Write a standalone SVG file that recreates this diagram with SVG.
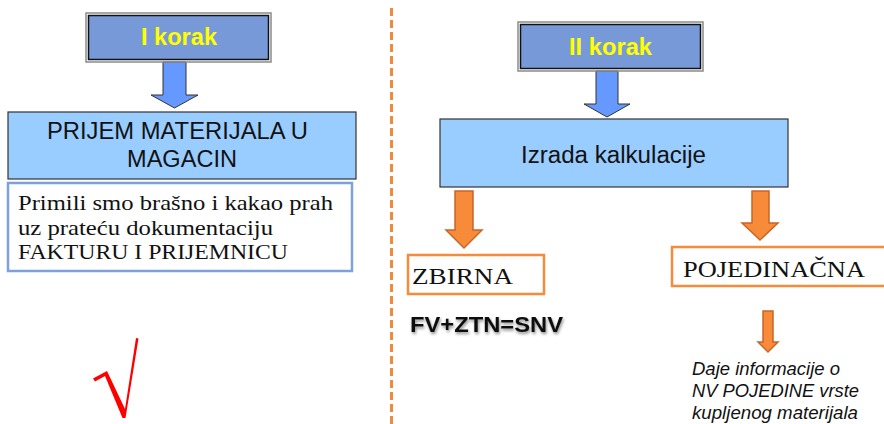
<svg xmlns="http://www.w3.org/2000/svg" width="884" height="424" viewBox="0 0 884 424">
  <style>
    .step { fill: #7799D8; stroke: #111; stroke-width: 1.5; }
    .stepOuter { fill: none; stroke: #8a8a8a; stroke-width: 1.5; }
    .stepText { font-family: "Liberation Sans", Arial, sans-serif; font-weight: bold; font-size: 23px; fill: #FFFF00; text-anchor: middle; }
    .main { fill: #99CCFF; stroke: #333; stroke-width: 1.2; }
    .mainText { font-family: "Liberation Sans", Arial, sans-serif; font-size: 23px; fill: #111; }
    .note { fill: #fff; stroke: #7EA0DC; stroke-width: 2.5; }
    .serif { font-family: "Liberation Serif", "Times New Roman", serif; fill: #111; }
    .orangeBox { fill: #fff; stroke: #F88B3A; stroke-width: 2.5; }
    .blueArrow { fill: #6699FF; stroke: #333; stroke-width: 1; }
    .orangeArrow { fill: #F88B3A; stroke: #C8662A; stroke-width: 1.5; }
    .divider { stroke: #F08A3C; stroke-width: 3; stroke-dasharray: 8 4; fill: none; }
    .italic { font-family: "Liberation Sans", Arial, sans-serif; font-style: italic; font-size: 18px; fill: #111; }
  </style>
  <defs>
    <filter id="softShadow" x="-10%" y="-30%" width="120%" height="160%">
      <feGaussianBlur in="SourceAlpha" stdDeviation="1.5"/>
      <feOffset dx="1" dy="1.5" result="b"/>
      <feFlood flood-color="#000" flood-opacity="0.45"/>
      <feComposite in2="b" operator="in"/>
      <feMerge><feMergeNode/><feMergeNode in="SourceGraphic"/></feMerge>
    </filter>
  </defs>

  <rect width="884" height="424" fill="#fff"/>

  <!-- dashed separator between the two steps -->
  <line class="divider" x1="391.5" y1="8" x2="391.5" y2="424"/>

  <g id="connectors">
    <!-- blue down arrows under the step headers -->
    <polygon class="blueArrow" points="163,62 186,62 186,95 198,95 174.5,108 151,95 163,95"/>
    <polygon class="blueArrow" points="596,71 618,71 618,104 630,104 607,117 584,104 596,104"/>
    <!-- orange arrows to the calculation types -->
    <polygon class="orangeArrow" points="455,191 473,191 473,230 482,230 464,248 446,230 455,230"/>
    <polygon class="orangeArrow" points="752,191 769,191 769,223 778,223 760,240 742,223 752,223"/>
    <polygon class="orangeArrow" points="763,311 773,311 773,342 778,342 768,352 758,342 763,342"/>
  </g>

  <g id="step1">
    <rect class="stepOuter" x="86" y="13" width="185" height="49"/>
    <rect class="step" x="88.5" y="15.5" width="180" height="44"/>
    <text class="stepText" x="179" y="45" textLength="76" lengthAdjust="spacingAndGlyphs">I korak</text>
  </g>

  <g id="prijem">
    <rect class="main" x="8" y="112" width="348" height="67"/>
    <text class="mainText" x="47" y="139" textLength="261" lengthAdjust="spacingAndGlyphs">PRIJEM MATERIJALA U</text>
    <text class="mainText" x="127" y="167" textLength="110" lengthAdjust="spacingAndGlyphs">MAGACIN</text>
  </g>

  <g id="note">
    <rect class="note" x="8" y="183" width="344" height="88"/>
    <text class="serif" font-size="21" x="18" y="210" textLength="315" lengthAdjust="spacingAndGlyphs">Primili smo brašno i kakao prah</text>
    <text class="serif" font-size="21" x="18" y="235" textLength="255" lengthAdjust="spacingAndGlyphs">uz prateću dokumentaciju</text>
    <text class="serif" font-size="21" x="18" y="259" textLength="270" lengthAdjust="spacingAndGlyphs">FAKTURU I PRIJEMNICU</text>
  </g>

  <!-- red radical-style tick mark -->
  <g id="check">
    <polygon points="93,378.5 107,371 125,409 136,338 138.5,338.5 125.5,418 122.5,418 105,376 95,381.5" fill="#FF0000"/>
  </g>

  <g id="step2">
    <rect class="stepOuter" x="518" y="22" width="185" height="49"/>
    <rect class="step" x="520.5" y="24.5" width="180" height="44"/>
    <text class="stepText" x="610.5" y="55" textLength="83" lengthAdjust="spacingAndGlyphs">II korak</text>
  </g>

  <g id="izrada">
    <rect class="main" x="440" y="119" width="348" height="68"/>
    <text class="mainText" x="521" y="163" textLength="185" lengthAdjust="spacingAndGlyphs">Izrada kalkulacije</text>
  </g>

  <g id="zbirna">
    <rect class="orangeBox" x="408" y="255" width="136" height="39"/>
    <text class="serif" font-size="24" x="412" y="284" textLength="101" lengthAdjust="spacingAndGlyphs">ZBIRNA</text>
  </g>

  <g id="formula">
    <text x="410" y="332" font-family="Liberation Sans, Arial, sans-serif" font-weight="bold" font-size="22" fill="#111" filter="url(#softShadow)" textLength="153" lengthAdjust="spacingAndGlyphs">FV+ZTN=SNV</text>
  </g>

  <g id="pojedinacna">
    <rect class="orangeBox" x="672" y="247" width="230" height="39"/>
    <text class="serif" font-size="24" x="683" y="277" textLength="182" lengthAdjust="spacingAndGlyphs">POJEDINAČNA</text>
  </g>

  <g id="info">
    <text class="italic" x="692" y="375" textLength="148" lengthAdjust="spacingAndGlyphs">Daje informacije o</text>
    <text class="italic" x="692" y="397" textLength="167" lengthAdjust="spacingAndGlyphs">NV POJEDINE vrste</text>
    <text class="italic" x="692" y="419" textLength="166" lengthAdjust="spacingAndGlyphs">kupljenog materijala</text>
  </g>
</svg>
